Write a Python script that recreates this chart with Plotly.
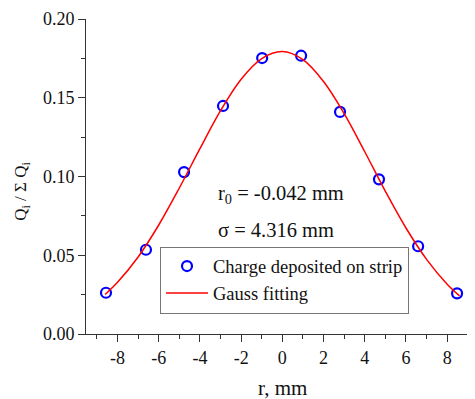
import plotly.graph_objects as go

# measured data points
r_pts = [-8.56, -6.62, -4.77, -2.88, -0.98, 0.91, 2.80, 4.69, 6.59, 8.48]
q_pts = [0.0262, 0.0535, 0.1028, 0.1448, 0.1752, 0.1767, 0.1410, 0.0982, 0.0557, 0.0258]

# Gauss fitting curve
r_fit = [-8.6, -8, -7, -6, -5, -4, -3, -2, -1, 0, 1, 2, 3, 4, 5, 6, 7, 8, 8.6]
q_fit = [0.0251, 0.0328, 0.0489, 0.0692, 0.0927, 0.1177, 0.1418, 0.1618, 0.1749, 0.1793,
         0.1742, 0.1603, 0.1399, 0.1157, 0.0906, 0.0673, 0.0474, 0.0316, 0.0242]

x_ticks = [-8, -6, -4, -2, 0, 2, 4, 6, 8]
y_ticks = [0.00, 0.05, 0.10, 0.15, 0.20]

FONT = "Liberation Serif, Times New Roman, serif"
TXT = "#111111"

fig = go.Figure()
fig.add_trace(go.Scatter(
    x=r_pts, y=q_pts, mode="markers", name="Charge deposited on strip",
    marker=dict(symbol="circle-open", size=10, color="#0000ff", line=dict(width=2.2, color="#0000ff")),
))
fig.add_trace(go.Scatter(
    x=r_fit, y=q_fit, mode="lines", name="Gauss fitting", line_shape="spline",
    line=dict(color="#ff0000", width=1.5),
))

axis_common = dict(
    showline=True, linecolor="#333333", linewidth=1, showgrid=False, zeroline=False,
    ticks="outside", ticklen=7, tickcolor="#333333", tickwidth=1, automargin=False,
    tickfont=dict(family=FONT, size=18, color=TXT),
)

fig.update_xaxes(
    **axis_common, range=[-9.53, 9.35], tickvals=x_ticks,
    ticktext=[str(v) for v in x_ticks],
    minor=dict(dtick=1, tick0=0, ticks="outside", ticklen=4, tickcolor="#333333"),
)
fig.update_yaxes(
    **axis_common, range=[0, 0.2], tickvals=y_ticks,
    ticktext=[f"{v:.2f}" for v in y_ticks],
    minor=dict(dtick=0.025, tick0=0, ticks="outside", ticklen=4, tickcolor="#333333"),
)

# page is offset by an 8px body margin; figure sized to fill the window
OFF = 8
PW, PH = 475 - OFF, 399 - OFF
L, T, W, H = 86, 19, 389, 315.5   # target plot area in window pixels


def dx(xs):
    return (xs - L) / W


def dy(ys):
    return 1 - (ys - T) / H


# axis titles
fig.add_annotation(x=dx(282), y=dy(389), xref="paper", yref="paper", text="r, mm",
                   showarrow=False, xanchor="center", yanchor="middle",
                   font=dict(family=FONT, size=21, color=TXT))
fig.add_annotation(x=dx(22), y=dy(192), xref="paper", yref="paper",
                   text="Q<sub>i</sub> / Σ Q<sub>i</sub>", textangle=-90,
                   showarrow=False, xanchor="center", yanchor="middle",
                   font=dict(family=FONT, size=17, color=TXT))

# fit parameters
fig.add_annotation(x=dx(216), y=dy(195), xref="paper", yref="paper", text="r<sub>0</sub> = -0.042 mm",
                   showarrow=False, xanchor="left", yanchor="middle",
                   font=dict(family=FONT, size=20.5, color=TXT))
fig.add_annotation(x=dx(216), y=dy(230), xref="paper", yref="paper", text="σ = 4.316 mm",
                   showarrow=False, xanchor="left", yanchor="middle",
                   font=dict(family=FONT, size=20.5, color=TXT))

fig.update_layout(
    width=PW, height=PH,
    margin=dict(l=L - OFF, r=0, t=T - OFF, b=PH - (T - OFF) - H),
    paper_bgcolor="white", plot_bgcolor="white",
    showlegend=True,
    legend=dict(
        x=dx(160), y=dy(314), xanchor="left", yanchor="bottom",
        bordercolor="#777777", borderwidth=1, bgcolor="white",
        font=dict(family=FONT, size=18.5, color=TXT),
        itemwidth=42, tracegroupgap=0,
    ),
)

fig.write_html("out.html")
